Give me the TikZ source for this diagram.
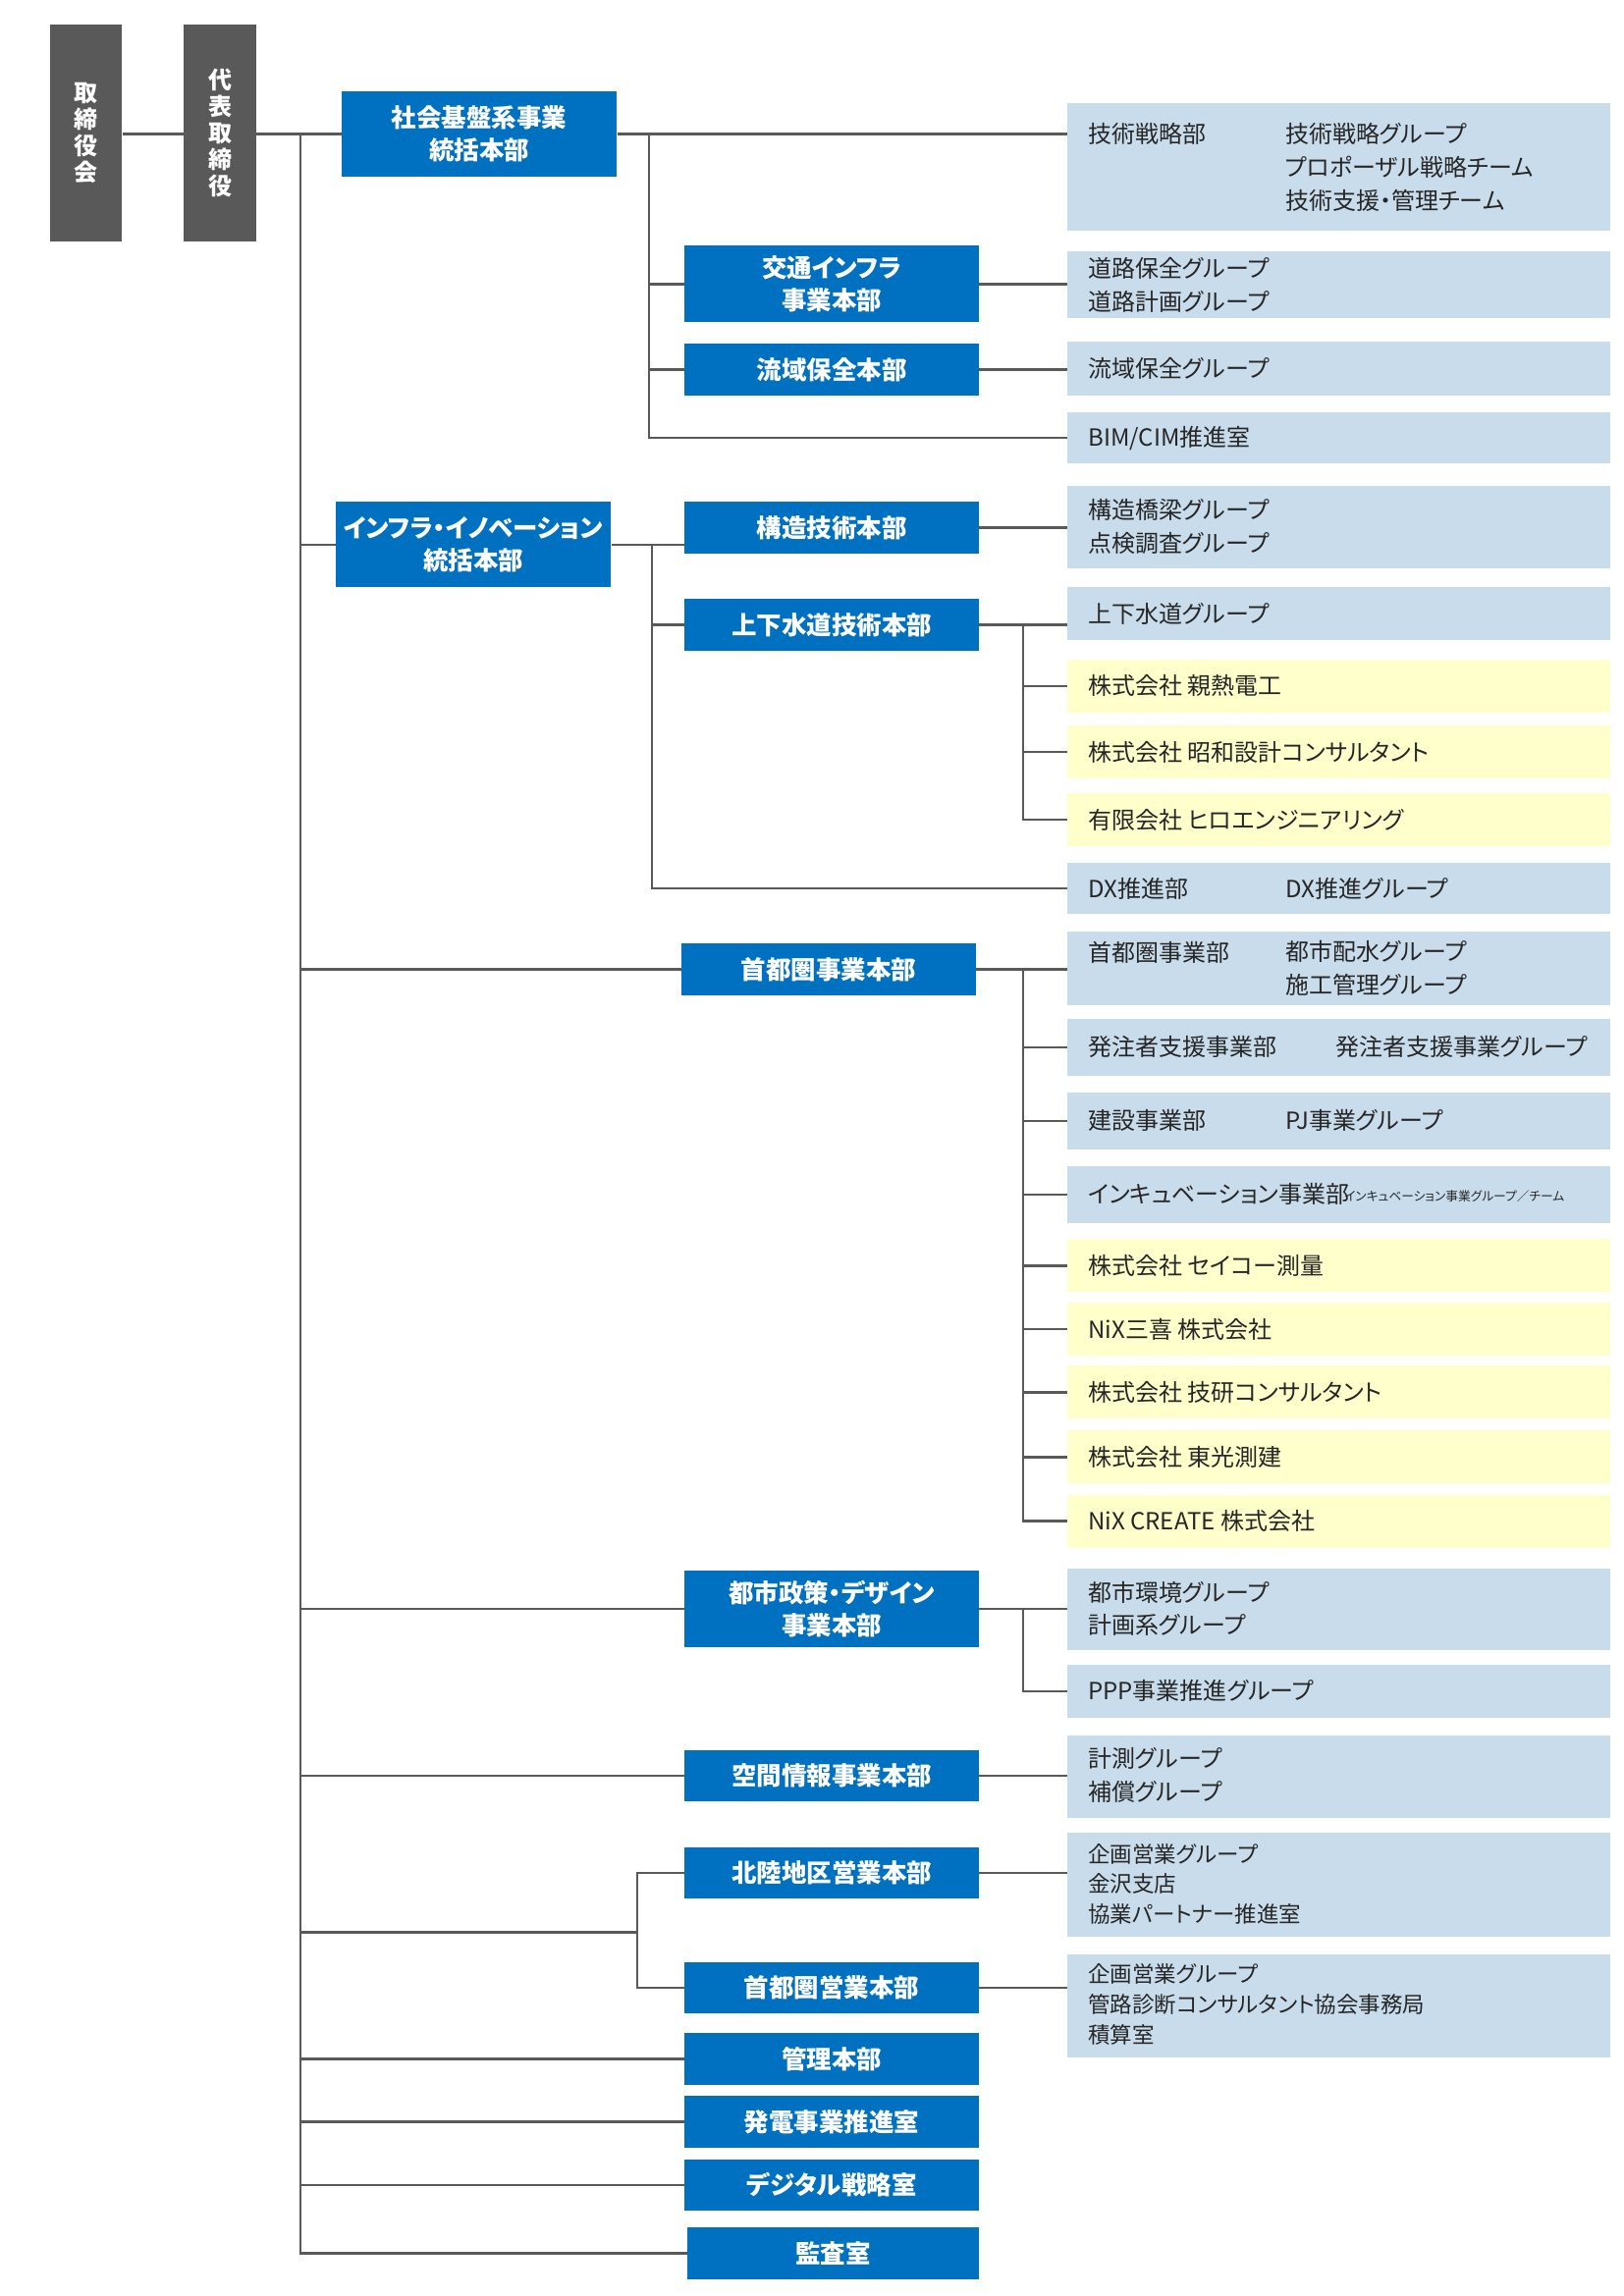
\documentclass[tikz,border=0pt]{standalone}
\usepackage{fontspec}
\setmainfont{Noto Sans CJK JP}[RawFeature=+palt]
\begin{document}
\begin{tikzpicture}[x=1pt,y=-1pt,
  gray box/.style={fill=gray1,draw=none,minimum width=49pt,minimum height=147pt,text=white,font=\fontsize{16}{18}\selectfont\bfseries,align=center,inner sep=0pt},
  blue box/.style={fill=blue1,draw=none,minimum width=200pt,text=white,font=\fontsize{17}{22}\selectfont\bfseries,align=center,inner sep=0pt},
  lb/.style={fill=lblue,draw=none,minimum width=369pt,inner sep=0pt},
  yb/.style={fill=lyel,draw=none,minimum width=369pt,inner sep=0pt},
  tx/.style={anchor=west,font=\fontsize{16}{22.5}\selectfont,align=left,inner sep=0pt,text=black!85},
  ln/.style={draw=gray1,line width=1.6pt}]
\definecolor{gray1}{HTML}{595959}
\definecolor{blue1}{HTML}{0070C0}
\definecolor{lblue}{HTML}{C9DCEC}
\definecolor{lyel}{HTML}{FFFFCC}
\useasboundingbox (0,0) rectangle (1103,1560);
% top
\node[gray box] (tori) at (58.5,90.5) {取\\締\\役\\会};
\node[gray box] (dai) at (149.5,90.5) {代\\表\\取\\締\\役};
\coordinate (t0) at (204,91);
\coordinate (tb) at (204,1531);
% level 1
\node[blue box,minimum width=187pt,minimum height=58pt] (shakai) at (325.5,91) {社会基盤系事業\\統括本部};
\node[blue box,minimum width=187pt,minimum height=58pt] (infra) at (321.5,370) {インフラ・イノベーション\\統括本部};
% level 2
\node[blue box,minimum height=52pt] (kotsu) at (565,193) {交通インフラ\\事業本部};
\node[blue box,minimum height=35pt] (ryuiki) at (565,251) {流域保全本部};
\node[blue box,minimum height=35pt] (kozo) at (565,358.5) {構造技術本部};
\node[blue box,minimum height=35pt] (gesui) at (565,424.5) {上下水道技術本部};
\node[blue box,minimum height=35pt] (shuto) at (563,658.5) {首都圏事業本部};
\node[blue box,minimum height=52pt] (toshi) at (565,1093) {都市政策・デザイン\\事業本部};
\node[blue box,minimum height=35pt] (kukan) at (565,1206.5) {空間情報事業本部};
\node[blue box,minimum height=35pt] (hoku) at (565,1272.5) {北陸地区営業本部};
\node[blue box,minimum height=35pt] (shutoei) at (565,1350.5) {首都圏営業本部};
\node[blue box,minimum height=35pt] (kanri) at (565,1399) {管理本部};
\node[blue box,minimum height=35pt] (hatsu) at (565,1441.5) {発電事業推進室};
\node[blue box,minimum height=35pt] (digi) at (565,1484.5) {デジタル戦略室};
\node[blue box,minimum height=35pt,minimum width=198pt] (kansa) at (566,1531) {監査室};
% right boxes
\node[lb,minimum height=87pt] (r1) at (909.5,113.5) {};
\node[tx] at (739,91) {技術戦略部};
\node[tx] at (873,113.5) {技術戦略グループ\\プロポーザル戦略チーム\\技術支援・管理チーム};
\node[lb,minimum height=45pt] (r2) at (909.5,193.5) {};
\node[tx] at (739,193.5) {道路保全グループ\\道路計画グループ};
\node[lb,minimum height=37pt] (r3) at (909.5,250.5) {};
\node[tx] at (739,250.5) {流域保全グループ};
\node[lb,minimum height=35pt] (r4) at (909.5,297.5) {};
\node[tx] at (739,297.5) {BIM/CIM推進室};
\node[lb,minimum height=56pt] (r5) at (909.5,358) {};
\node[tx] at (739,358) {構造橋梁グループ\\点検調査グループ};
\node[lb,minimum height=36pt] (r6) at (909.5,417) {};
\node[tx] at (739,417) {上下水道グループ};
\node[yb,minimum height=36pt] (y1) at (909.5,466) {};
\node[tx] at (739,466) {株式会社 親熱電工};
\node[yb,minimum height=36pt] (y2) at (909.5,511) {};
\node[tx] at (739,511) {株式会社 昭和設計コンサルタント};
\node[yb,minimum height=36pt] (y3) at (909.5,557) {};
\node[tx] at (739,557) {有限会社 ヒロエンジニアリング};
\node[lb,minimum height=35pt] (r7) at (909.5,603.5) {};
\node[tx] at (739,603.5) {DX推進部};
\node[tx] at (873,603.5) {DX推進グループ};
\node[lb,minimum height=50pt] (r8) at (909.5,658) {};
\node[tx] at (739,647) {首都圏事業部};
\node[tx] at (873,658) {都市配水グループ\\施工管理グループ};
\node[lb,minimum height=39pt] (r9) at (909.5,711.5) {};
\node[tx] at (739,711.5) {発注者支援事業部};
\node[tx] at (907,711.5) {発注者支援事業グループ};
\node[lb,minimum height=39pt] (r10) at (909.5,761.5) {};
\node[tx] at (739,761.5) {建設事業部};
\node[tx] at (873,761.5) {PJ事業グループ};
\node[lb,minimum height=39pt] (r11) at (909.5,811.5) {};
\node[tx] at (739,811.5) {インキュベーション事業部};
\node[tx,font=\fontsize{8.5}{11}\selectfont] at (913,813) {インキュベーション事業グループ／チーム};
\node[yb,minimum height=36pt] (y4) at (909.5,860) {};
\node[tx] at (739,860) {株式会社 セイコー測量};
\node[yb,minimum height=36pt] (y5) at (909.5,903) {};
\node[tx] at (739,903) {NiX三喜 株式会社};
\node[yb,minimum height=36pt] (y6) at (909.5,946) {};
\node[tx] at (739,946) {株式会社 技研コンサルタント};
\node[yb,minimum height=36pt] (y7) at (909.5,990) {};
\node[tx] at (739,990) {株式会社 東光測建};
\node[yb,minimum height=36pt] (y8) at (909.5,1033.5) {};
\node[tx] at (739,1033.5) {NiX CREATE 株式会社};
\node[lb,minimum height=55pt] (r12) at (909.5,1093.5) {};
\node[tx] at (739,1093) {都市環境グループ\\計画系グループ};
\node[lb,minimum height=36pt] (r13) at (909.5,1149) {};
\node[tx] at (739,1149) {PPP事業推進グループ};
\node[lb,minimum height=56pt] (r14) at (909.5,1207) {};
\node[tx] at (739,1206) {計測グループ\\補償グループ};
\node[lb,minimum height=71pt] (r15) at (909.5,1280.5) {};
\node[tx,font=\fontsize{15}{20.5}\selectfont] at (739,1280) {企画営業グループ\\金沢支店\\協業パートナー推進室};
\node[lb,minimum height=70pt] (r16) at (909.5,1363) {};
\node[tx,font=\fontsize{15}{20.5}\selectfont] at (739,1362) {企画営業グループ\\管路診断コンサルタント協会事務局\\積算室};
% connectors
\draw[ln] (tori.east|-t0) -- (dai.west|-t0);
\draw[ln] (dai.east|-t0) -- (shakai.west|-t0);
\draw[ln] (t0) -- (tb) -- (kansa.west|-tb);
\draw[ln] (shakai.east) -- (r1.west|-shakai.east);
\draw[ln] (441,91) -- (441,297.5) -- (r4.west);
\draw[ln] (441,193) -- (kotsu.west); \draw[ln] (kotsu.east) -- (r2.west|-kotsu.east);
\draw[ln] (441,251) -- (ryuiki.west); \draw[ln] (ryuiki.east) -- (r3.west|-ryuiki.east);
\draw[ln] (204,370) -- (infra.west); \draw[ln] (infra.east) -- (infra.east-|kozo.west);
\draw[ln] (kozo.east) -- (r5.west|-kozo.east);
\draw[ln] (443,370) -- (443,603.5) -- (r7.west);
\draw[ln] (443,424.5) -- (gesui.west); \draw[ln] (gesui.east) -- (r6.west|-gesui.east);
\draw[ln] (695,424.5) -- (695,557) -- (y3.west);
\draw[ln] (695,466) -- (y1.west); \draw[ln] (695,511) -- (y2.west);
\draw[ln] (204,658.5) -- (shuto.west); \draw[ln] (shuto.east) -- (r8.west|-shuto.east);
\draw[ln] (695,658.5) -- (695,1033.5) -- (y8.west);
\foreach \n in {r9,r10,r11,y4,y5,y6,y7} \draw[ln] (\n.west-|695,0) -- (\n.west);
\draw[ln] (204,1093) -- (toshi.west); \draw[ln] (toshi.east) -- (r12.west|-toshi.east);
\draw[ln] (695,1093) -- (695,1149) -- (r13.west);
\draw[ln] (204,1206.5) -- (kukan.west); \draw[ln] (kukan.east) -- (r14.west|-kukan.east);
\draw[ln] (204,1313) -- (433,1313);
\draw[ln] (hoku.west) -- (433,1272.5) -- (433,1350.5) -- (shutoei.west);
\draw[ln] (hoku.east) -- (r15.west|-hoku.east);
\draw[ln] (shutoei.east) -- (r16.west|-shutoei.east);
\draw[ln] (204,1399) -- (kanri.west);
\draw[ln] (204,1441.5) -- (hatsu.west);
\draw[ln] (204,1484.5) -- (digi.west);
\end{tikzpicture}
\end{document}
